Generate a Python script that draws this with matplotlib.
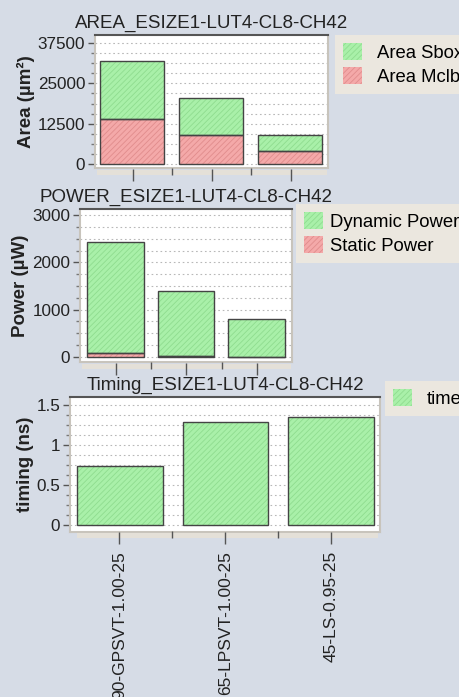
import matplotlib
matplotlib.use("Agg")
import matplotlib.pyplot as plt
from matplotlib.patches import Patch
from matplotlib.ticker import MultipleLocator
import numpy as np

plt.rcParams['font.family'] = ['Liberation Sans', 'DejaVu Sans']
plt.rcParams['hatch.linewidth'] = 0.6

# ---- data ----
categories = ["90-GPSVT-1.00-25", "65-LPSVT-1.00-25", "45-LS-0.95-25"]
area_mclb = [14000, 9000, 4000]
area_sbox = [18000, 11500, 5000]
power_static = [90, 15, 10]
power_dynamic = [2350, 1385, 795]
timing = [0.74, 1.29, 1.35]

area_title = "AREA_ESIZE1-LUT4-CL8-CH42"
power_title = "POWER_ESIZE1-LUT4-CL8-CH42"
timing_title = "Timing_ESIZE1-LUT4-CL8-CH42"

GREEN = "#a9f0a9"
GREEN_H = "#8fdc8f"
RED = "#f4a9a9"
RED_H = "#e08c8c"
EDGE = "#444444"
BG = "#d6dce6"
STRIP = "#e4e0d8"
TXT = "#222222"

TITLE_FS = 13.5
TICK_FS = 12.3
LABEL_FS = 13.5
LEG_FS = 13.3

W, H = 460, 697
fig = plt.figure(figsize=(W / 100, H / 100), dpi=100)
fig.patch.set_facecolor(BG)


def px_axes(l, t, r, b):
    return fig.add_axes([l / W, 1 - b / H, (r - l) / W, (b - t) / H])


def bars(ax, x, vals, bottom, color, hcolor, width):
    ax.bar(x, vals, width, bottom=bottom, color=color, edgecolor=hcolor,
           hatch='//////', linewidth=0, zorder=2)
    ax.bar(x, vals, width, bottom=bottom, fill=False, edgecolor=EDGE,
           linewidth=1.0, zorder=3)


def style(ax, ylim, xlim, major, minor, fmt):
    ax.set_facecolor("white")
    ax.set_ylim(*ylim)
    ax.set_xlim(*xlim)
    ax.yaxis.set_major_locator(MultipleLocator(major))
    ax.yaxis.set_minor_locator(MultipleLocator(minor))
    ax.yaxis.set_major_formatter(fmt)
    ax.set_xticks([])
    ax.grid(True, which='both', axis='y', linestyle=(0, (1.5, 2.5)),
            color='#b8b8b8', linewidth=0.8, zorder=0)
    ax.tick_params(axis='y', which='major', length=5, width=1, color='#555',
                   labelsize=TICK_FS, labelcolor=TXT, pad=2)
    ax.tick_params(axis='y', which='minor', length=3, width=1, color='#777')
    for s in ['left', 'right', 'bottom']:
        ax.spines[s].set_color('#c8c4bc')
        ax.spines[s].set_linewidth(1.5)
    ax.spines['top'].set_color('#555555')
    ax.spines['top'].set_linewidth(1.5)


def strip(l, t, r, b, xlim, labels=None):
    sa = px_axes(l, t, r, b)
    sa.set_facecolor(STRIP)
    sa.set_xlim(*xlim)
    sa.set_ylim(0, 1)
    for s in sa.spines.values():
        s.set_visible(False)
    sa.set_yticks([])
    n = len(categories)
    sa.set_xticks(np.arange(n))
    sa.set_xticks(np.arange(n - 1) + 0.5, minor=True)
    sa.tick_params(axis='x', which='major', direction='inout', length=9,
                   width=1, color='#555')
    sa.tick_params(axis='x', which='minor', direction='in', length=5,
                   width=1, color='#555')
    if labels is None:
        sa.set_xticklabels([])
    else:
        sa.set_xticklabels(labels, rotation=90, fontsize=12.5, color=TXT,
                           va='top', ha='center')
        sa.tick_params(axis='x', pad=5)
    return sa


def legend(handles, labels, l, t, textpad=0.8):
    fig.legend(handles=handles, labels=labels, loc='upper left',
               bbox_to_anchor=(l / W, 1 - t / H), bbox_transform=fig.transFigure,
               frameon=True, facecolor='#ebe7df', edgecolor='none', framealpha=1,
               fontsize=LEG_FS, handlelength=1.0, handleheight=1.0,
               labelspacing=0.3, borderaxespad=0, borderpad=0.45,
               handletextpad=textpad, fancybox=False)


def ylab(ax, text):
    ax.set_ylabel(text, fontsize=LABEL_FS, color=TXT, labelpad=2,
                  fontweight='bold')


x = np.arange(len(categories))
g_patch = Patch(facecolor=GREEN, edgecolor=GREEN_H, hatch='//////', lw=0)
r_patch = Patch(facecolor=RED, edgecolor=RED_H, hatch='//////', lw=0)

# ---- Area ----
ax1 = px_axes(95, 35, 328, 168)
bars(ax1, x, area_mclb, 0, RED, RED_H, 0.81)
bars(ax1, x, area_sbox, area_mclb, GREEN, GREEN_H, 0.81)
style(ax1, (-1240, 40000), (-0.47, 2.48), 12500, 3125, '{x:.0f}')
ylab(ax1, "Area (µm²)")
ax1.set_title(area_title, fontsize=TITLE_FS, color=TXT, pad=5)
strip(97, 170, 327, 175, (-0.45, 2.46))
legend([g_patch, r_patch], ["Area Sbox", "Area Mclb"], 335, 35)

# ---- Power ----
ax2 = px_axes(80, 209, 292, 362)
bars(ax2, x, power_static, 0, RED, RED_H, 0.8)
bars(ax2, x, power_dynamic, power_static, GREEN, GREEN_H, 0.8)
style(ax2, (-106, 3127), (-0.5, 2.5), 1000, 250, '{x:.0f}')
ylab(ax2, "Power (µW)")
ax2.set_title(power_title, fontsize=TITLE_FS, color=TXT, pad=5)
strip(82, 364, 291, 369, (-0.49, 2.49))
legend([g_patch, r_patch], ["Dynamic Power", "Static Power"], 296, 204,
       textpad=0.4)

# ---- Timing ----
ax3 = px_axes(70, 397, 380, 532)
bars(ax3, x, timing, 0, GREEN, GREEN_H, 0.81)
style(ax3, (-0.0875, 1.6), (-0.47, 2.46), 0.5, 0.125, '{x:g}')
ylab(ax3, "timing (ns)")
ax3.set_title(timing_title, fontsize=TITLE_FS, color=TXT, pad=5)
strip(77, 533, 378, 538, (-0.40, 2.44), labels=categories)
legend([g_patch], ["time"], 385, 381)

fig.savefig("out.png", dpi=100, facecolor=fig.get_facecolor())
